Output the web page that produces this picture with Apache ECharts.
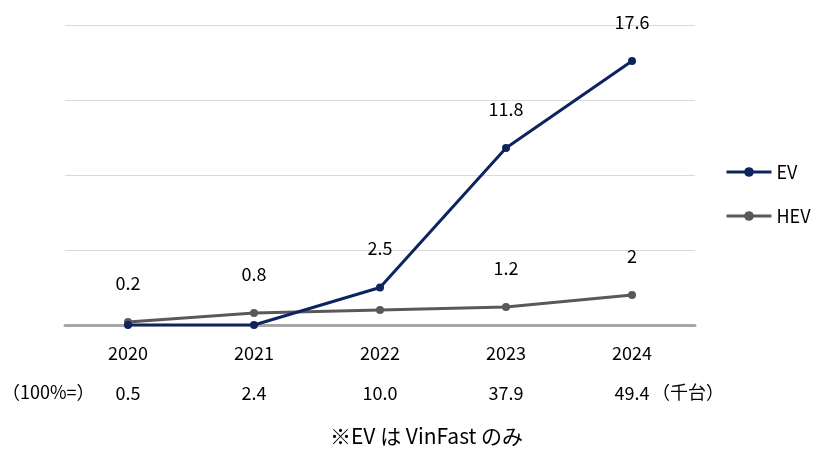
<!DOCTYPE html>
<html>
<head>
<meta charset="utf-8">
<script src="https://cdn.jsdelivr.net/npm/echarts@6/dist/echarts.min.js"></script>
<style>html,body{margin:0;background:#fff}#c{width:840px;height:473px}</style>
</head>
<body>
<div id="c"></div>
<script>
// データ
const years = ["2020", "2021", "2022", "2023", "2024"];
const totals = ["0.5", "2.4", "10.0", "37.9", "49.4"];
const ev = [0, 0, 2.5, 11.8, 17.6];
const hev = [0.2, 0.8, 1.0, 1.2, 2];
const evLabelShow = [false, false, true, true, true];
const hevLabelShow = [true, true, false, true, true];

const font = "'Noto Sans CJK JP', 'Noto Sans', sans-serif";
let chart = echarts.init(document.getElementById("c"));

function toData(vals, shows) {
  return vals.map((v, i) => ({ value: v, label: { show: shows[i] } }));
}
const lbl = { position: "top", distance: 26, fontSize: 18, color: "#000", fontFamily: font };

chart.setOption({
  animation: false,
  textStyle: { fontFamily: font },
  grid: { left: 65, right: 145, top: 25, bottom: 148 },
  legend: {
    orient: "vertical",
    left: 720,
    top: 158,
    itemWidth: 45,
    itemHeight: 12,
    itemGap: 26,
    lineStyle: { width: 3 },
    textStyle: { fontSize: 18, color: "#000", fontFamily: font },
    data: ["EV", "HEV"],
  },
  xAxis: {
    type: "category",
    data: years,
    axisLine: { lineStyle: { color: "#a6a6a6", width: 3 } },
    axisTick: { show: false },
    axisLabel: {
      margin: 8,
      fontSize: 18,
      color: "#000",
      lineHeight: 40,
      formatter: (v, i) => v + "\n" + totals[i],
    },
  },
  yAxis: {
    type: "value",
    min: 0,
    max: 20,
    interval: 5,
    axisLabel: { show: false },
    axisLine: { show: false },
    axisTick: { show: false },
    splitLine: { lineStyle: { color: "#d9d9d9", width: 1 } },
  },
  series: [
    {
      name: "EV", type: "line", data: toData(ev, evLabelShow),
      symbol: "circle", symbolSize: 8,
      lineStyle: { width: 3, color: "#0d2461" }, itemStyle: { color: "#0d2461" },
      label: lbl, z: 3,
    },
    {
      name: "HEV", type: "line", data: toData(hev, hevLabelShow),
      symbol: "circle", symbolSize: 8,
      lineStyle: { width: 3, color: "#595959" }, itemStyle: { color: "#595959" },
      label: lbl, z: 2,
    },
  ],
  graphic: [
    { type: "text", left: 2, top: 383, style: { text: "（100%=）", fontSize: 18, fill: "#000", fontFamily: font } },
    { type: "text", left: 652, top: 383, style: { text: "（千台）", fontSize: 18, fill: "#000", fontFamily: font } },
    { type: "text", left: 330, top: 426, style: { text: "※EV は VinFast のみ", fontSize: 21, fill: "#000", fontFamily: font } },
  ],
});
</script>
</body>
</html>
